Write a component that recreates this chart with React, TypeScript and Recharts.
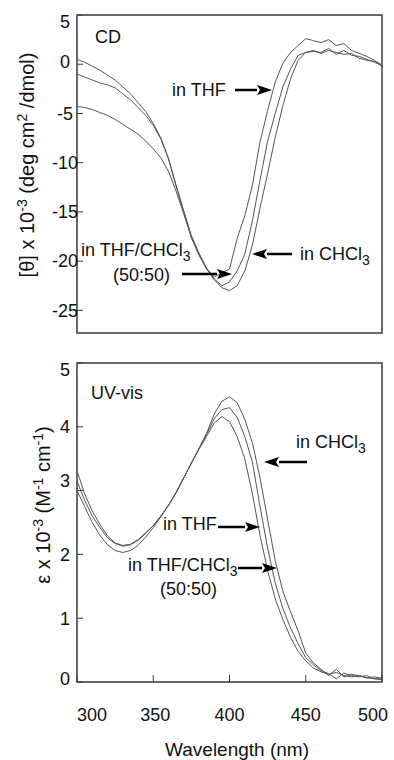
import React from 'react';
import { LineChart, Line, XAxis, YAxis, ReferenceArea } from 'recharts';

const wavelengths = [
  300, 305, 310, 315, 320, 325, 330, 335, 340, 345, 350, 355, 360, 365, 370, 375, 380, 385, 390, 395, 400,
  405, 410, 415, 420, 425, 430, 435, 440, 445, 450, 455, 460, 465, 470, 475, 480, 485, 490, 495, 500,
];

// CD, [θ] x 10^-3
const cdThf = [
  -4.3, -4.4, -4.6, -4.9, -5.2, -5.6, -6.1, -6.6, -7.1, -7.8, -8.6, -9.5, -10.9, -12.9, -15.2, -17.6, -19.3, -20.8, -21.6, -21.2, -20.8,
  -17.7, -15.4, -12.3, -7.9, -4.7, -1.8, 0.1, 1.2, 1.9, 2.6, 2.4, 2.2, 2.5, 1.9, 2.1, 1.4, 1.1, 0.8, 0.4, -0.1,
];
const cdMix = [
  -1.0, -1.3, -1.6, -1.9, -2.1, -2.4, -3.0, -3.6, -4.4, -5.2, -6.2, -7.6, -9.6, -12.3, -14.9, -17.4, -19.2, -20.7, -21.8, -22.5, -22.1,
  -21.0, -19.3, -15.9, -11.8, -7.8, -5.0, -2.3, -0.5, 0.9, 1.2, 1.3, 1.2, 1.6, 1.0, 1.4, 0.9, 0.8, 0.5, 0.2, -0.1,
];
const cdChcl3 = [
  0.5, 0.2, -0.2, -0.6, -1.1, -1.6, -2.3, -3.0, -3.9, -4.8, -6.0, -7.5, -9.6, -12.4, -15.0, -17.6, -19.4, -20.8, -21.9, -22.7, -23.0,
  -22.5, -21.0, -18.4, -14.6, -11.1, -7.4, -4.2, -1.5, 0.4, 1.2, 1.4, 1.1, 1.4, 1.2, 1.0, 1.1, 0.6, 0.4, 0.3, -0.2,
];

// UV-vis, ε x 10^-3
const uvThf = [
  3.0, 2.75, 2.5, 2.3, 2.15, 2.06, 2.03, 2.06, 2.14, 2.27, 2.42, 2.59, 2.77, 2.97, 3.2, 3.43, 3.65, 3.85, 4.06, 4.16, 4.08,
  3.85, 3.5, 2.95, 2.3, 1.75, 1.3, 0.98, 0.7, 0.48, 0.33, 0.22, 0.16, 0.12, 0.15, 0.1, 0.08, 0.1, 0.06, 0.08, 0.06,
];
const uvMix = [
  3.31, 2.95, 2.68, 2.47, 2.29, 2.18, 2.14, 2.16, 2.23, 2.34, 2.45, 2.6, 2.77, 2.97, 3.2, 3.43, 3.66, 3.88, 4.13, 4.27, 4.3,
  4.15, 3.85, 3.45, 2.75, 2.1, 1.55, 1.15, 0.85, 0.6, 0.38, 0.27, 0.18, 0.13, 0.05, 0.14, 0.1, 0.08, 0.1, 0.05, 0.04,
];
const uvChcl3 = [
  3.15, 2.85, 2.6, 2.42, 2.26, 2.17, 2.13, 2.15, 2.22, 2.33, 2.45, 2.6, 2.77, 2.97, 3.2, 3.43, 3.66, 3.9, 4.2, 4.4, 4.47,
  4.38, 4.12, 3.75, 3.2, 2.55, 1.9, 1.42, 1.1, 0.8, 0.45, 0.3, 0.2, 0.1, 0.2, 0.08, 0.12, 0.1, 0.07, 0.05, 0.05,
];

const cdTicks = [5, 0, -5, -10, -15, -20, -25];
const uvTicks = [0, 1, 2, 3, 4, 5];
const wlTicks = [300, 350, 400, 450, 500];

const cdData = wavelengths.map((wl, i) => ({ wl, thf: cdThf[i], mix: cdMix[i], chcl3: cdChcl3[i] }));
const uvData = wavelengths.map((wl, i) => ({ wl, thf: uvThf[i], mix: uvMix[i], chcl3: uvChcl3[i] }));

const FONT = '"Liberation Sans", Arial, Helvetica, sans-serif';
const LINE = '#555';
const FRAME = '#3a3a3a';

// the original figure nudges some tick labels off their ticks
const yNudge: Record<number, number> = { 5: 7, 0: -3, 3: -10 };
const xNudge: Record<number, number> = { 300: 15, 350: 2, 500: -9 };

const YTick = (props: any) => {
  const { x, y, payload } = props;
  return (
    <text x={x} y={y + (yNudge[payload.value] || 0)} dy="0.35em" textAnchor="middle" fontFamily={FONT} fontSize={18} fill="#111">
      {payload.value}
    </text>
  );
};

const XTick = (props: any) => {
  const { x, y, payload } = props;
  return (
    <text x={x + (xNudge[payload.value] || 0)} y={y} dy="0.35em" textAnchor="middle" fontFamily={FONT} fontSize={18} fill="#111">
      {payload.value}
    </text>
  );
};

const Arrow = ({ from, to, y }: { from: number; to: number; y: number }) => {
  const dir = to > from ? 1 : -1;
  const head = 15;
  return (
    <g>
      <line x1={from} y1={y} x2={to - dir * head} y2={y} stroke="#000" strokeWidth={2.5} />
      <polygon points={`${to},${y} ${to - dir * head},${y - 5} ${to - dir * (head - 3)},${y} ${to - dir * head},${y + 5}`} fill="#000" />
    </g>
  );
};

const Chcl3 = () => (
  <>
    CHCl<tspan dy={5} fontSize={14}>3</tspan>
    <tspan dy={-5}></tspan>
  </>
);

const series = (
  [
    ['thf', 'THF'],
    ['mix', 'THF/CHCl3'],
    ['chcl3', 'CHCl3'],
  ] as const
).map(([key, name]) => (
  <Line key={key} dataKey={key} name={name} type="linear" stroke={LINE} strokeWidth={1} dot={false} isAnimationActive={false} />
));

export default function App() {
  return (
    <div style={{ position: 'absolute', left: 0, top: 0, width: 394, height: 760, background: '#fff', fontFamily: FONT }}>
      <div style={{ position: 'absolute', left: 0, top: 0 }}>
        <LineChart width={394} height={345} data={cdData} margin={{ top: 15, right: 12, left: 0, bottom: 0 }}>
          <XAxis dataKey="wl" type="number" domain={[300, 500]} ticks={wlTicks} tick={false} tickSize={-7} axisLine={false} height={12} stroke={FRAME} />
          <YAxis type="number" domain={[-27.3, 5]} ticks={cdTicks} width={77} tickSize={-6} tickMargin={18} tick={<YTick />} axisLine={false} stroke={FRAME} />
          <ReferenceArea x1={300} x2={500} y1={-27.3} y2={5} fill="none" stroke={FRAME} strokeWidth={1.5} ifOverflow="visible" />
          {series}
        </LineChart>
      </div>
      <div style={{ position: 'absolute', left: 0, top: 345 }}>
        <LineChart width={394} height={415} data={uvData} margin={{ top: 18, right: 12, left: 0, bottom: 0 }}>
          <XAxis dataKey="wl" type="number" domain={[300, 500]} ticks={wlTicks} tick={<XTick />} tickSize={-7} tickMargin={40} axisLine={false} height={78} stroke={FRAME} />
          <YAxis type="number" domain={[0, 5]} ticks={uvTicks} width={77} tickSize={-6} tickMargin={18} tick={<YTick />} axisLine={false} stroke={FRAME} />
          <ReferenceArea x1={300} x2={500} y1={0} y2={5} fill="none" stroke={FRAME} strokeWidth={1.5} ifOverflow="visible" />
          {series}
        </LineChart>
      </div>
      <svg width={394} height={760} style={{ position: 'absolute', left: 0, top: 0, pointerEvents: 'none' }} fontFamily={FONT} fontSize={18} fill="#111">
        {/* CD panel */}
        <text x={95} y={43}>CD</text>
        <text x={172} y={96}>in THF</text>
        <Arrow from={235} to={272} y={90} />
        <text x={81} y={256}>in THF/<Chcl3 /></text>
        <text x={113} y={281}>(50:50)</text>
        <Arrow from={182} to={232} y={274} />
        <text x={300} y={260}>in <Chcl3 /></text>
        <Arrow from={292} to={252} y={254} />
        <text transform="rotate(-90 27 165)" x={27} y={165} dy="0.35em" textAnchor="middle" fontSize={20}>
          [θ] x 10<tspan dy={-7} fontSize={14}>-3</tspan>
          <tspan dy={7}> (deg cm</tspan>
          <tspan dy={-7} fontSize={14}>2</tspan>
          <tspan dy={7}> /dmol)</tspan>
        </text>

        {/* UV-vis panel */}
        <text x={91} y={399}>UV-vis</text>
        <text x={296} y={448}>in <Chcl3 /></text>
        <Arrow from={307} to={264} y={462} />
        <text x={163} y={530}>in THF</text>
        <Arrow from={218} to={260} y={527} />
        <text x={128} y={571}>in THF/<Chcl3 /></text>
        <text x={160} y={595}>(50:50)</text>
        <Arrow from={238} to={277} y={568} />
        <text transform="rotate(-90 43 505)" x={43} y={505} dy="0.35em" textAnchor="middle" fontSize={20}>
          ε x 10<tspan dy={-7} fontSize={14}>-3</tspan>
          <tspan dy={7}> (M</tspan>
          <tspan dy={-7} fontSize={14}>-1</tspan>
          <tspan dy={7}> cm</tspan>
          <tspan dy={-7} fontSize={14}>-1</tspan>
          <tspan dy={7}>)</tspan>
        </text>

        <text x={237} y={756} textAnchor="middle" fontSize={19}>Wavelength (nm)</text>
      </svg>
    </div>
  );
}
